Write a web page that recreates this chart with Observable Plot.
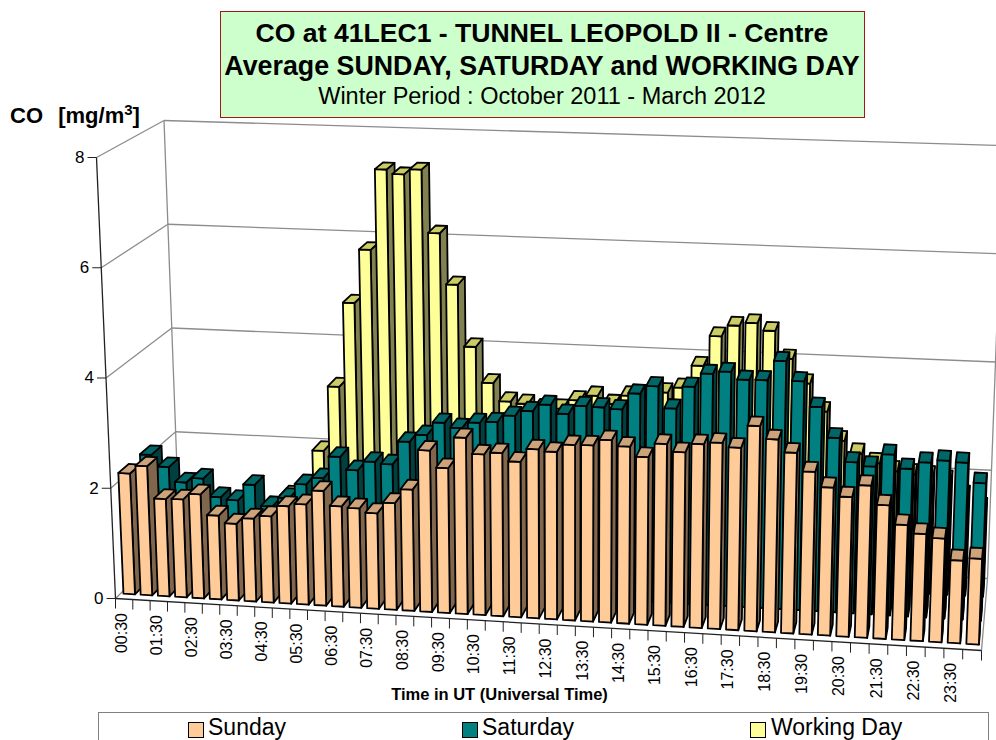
<!DOCTYPE html>
<html>
<head>
<meta charset="utf-8">
<script src="https://cdn.jsdelivr.net/npm/d3@7"></script>
<script src="https://cdn.jsdelivr.net/npm/@observablehq/plot@0.6"></script>
<style>
html,body{margin:0;padding:0;background:#fff;width:996px;height:740px;overflow:hidden;font-family:"Liberation Sans",Arial,sans-serif;color:#000}
#wrap{position:relative;width:996px;height:740px;overflow:hidden}
#titlebox{position:absolute;left:219.5px;top:10.5px;width:643px;height:105px;background:#ccffcc;border:1px solid #a01818;text-align:center;white-space:nowrap}
#titlebox div{position:absolute;left:0;right:0}
#t1{top:5px;font:bold 26.6px/32px "Liberation Sans"}
#t2{top:38px;font:bold 26.8px/32px "Liberation Sans"}
#t3{top:70px;font:23.5px/28px "Liberation Sans"}
#ylab{position:absolute;left:10px;top:103px;font:bold 22px/26px "Liberation Sans";white-space:pre;word-spacing:1.5px}
#ylab sup{font-size:15px;line-height:0;vertical-align:8px}
#chart{position:absolute;left:0;top:118px}
#legend{position:absolute;left:98px;top:712px;width:891px;height:40px;border:1px solid #808080;box-sizing:border-box;background:#fff}
.sw{position:absolute;top:8.5px;width:14px;height:14px;border:1px solid #000}
.lt{position:absolute;top:2px;font:23px/24px "Liberation Sans"}
</style>
</head>
<body>
<div id="wrap">
  <div id="titlebox">
    <div id="t1">CO at 41LEC1 - TUNNEL LEOPOLD II - Centre</div>
    <div id="t2">Average SUNDAY, SATURDAY and WORKING DAY</div>
    <div id="t3">Winter Period : October 2011 - March 2012</div>
  </div>
  <div id="chart"></div>
  <div id="ylab">CO  [mg/m<sup>3</sup>]</div>
  <div id="legend">
    <div class="sw" style="left:89px;background:#ffcc99"></div><div class="lt" style="left:109px">Sunday</div>
    <div class="sw" style="left:363px;background:#008080"></div><div class="lt" style="left:383px">Saturday</div>
    <div class="sw" style="left:651px;background:#ffff99"></div><div class="lt" style="left:672px">Working Day</div>
  </div>
</div>
<script>
// Half-hourly slots, 00:30 ... 24:00 (every second one is labelled)
const slotLabels = ["00:30","","01:30","","02:30","","03:30","","04:30","","05:30","","06:30","","07:30","","08:30","","09:30","","10:30","","11:30","","12:30","","13:30","","14:30","","15:30","","16:30","","17:30","","18:30","","19:30","","20:30","","21:30","","22:30","","23:30",""];
const sunday = [2.20,2.35,1.77,1.78,1.89,1.52,1.39,1.50,1.56,1.76,1.81,2.07,1.81,1.79,1.72,1.92,2.18,2.90,2.60,3.16,2.88,2.92,2.78,3.02,2.99,3.13,3.14,3.25,3.15,2.98,3.23,3.10,3.26,3.30,3.23,3.63,3.41,3.19,2.87,2.61,2.46,2.68,2.35,2.02,1.88,1.82,1.45,1.50];
const saturday = [2.20,1.99,1.72,1.81,1.48,1.44,1.74,1.36,1.53,1.80,1.93,2.34,2.11,2.28,2.25,2.68,2.82,3.06,2.98,3.09,3.12,3.25,3.35,3.48,3.33,3.49,3.48,3.46,3.76,3.91,3.52,3.93,4.18,4.23,4.10,4.11,4.47,4.12,3.67,3.13,2.71,2.65,2.88,2.64,2.77,2.82,2.80,2.45];
const workingDay = [1.20,1.10,1.00,0.90,0.80,0.80,0.90,1.18,1.35,2.06,3.28,4.87,5.88,7.40,7.32,7.42,6.24,5.29,4.14,3.48,3.15,3.12,3.05,3.06,3.23,3.33,3.19,3.36,3.40,3.45,3.55,3.97,4.53,4.74,4.80,4.67,4.17,3.73,3.23,2.71,2.49,2.33,2.20,2.16,2.14,2.07,1.81,1.60];
const yTicks = [0,2,4,6,8];
const yMax = 8;

// Series drawn back to front: [values, depth of the front face, front, side, top colours]
const series = [
  {values: workingDay, depth: 0.747, front: "#ffff99", side: "#808050", top: "#cccc66"},
  {values: saturday,   depth: 0.413, front: "#008080", side: "#004040", top: "#006666"},
  {values: sunday,     depth: 0.080, front: "#ffcc99", side: "#80664d", top: "#cca37a"}
];
const barDepth = 0.16, gap = 0.165;

// The chart's 3-D box as it appears in the picture (floor / top, front / back, left / right)
const box = {
  f0l:[115,598], f0r:[981,650], b0l:[179,535], b0r:[987,578],
  f8l:[96,157],  f8r:[998,191], b8l:[163.5,120], b8r:[1003,145]
};
const persp = 0.958;
function project(t, v, h) {
  const u = t * persp / (1 + t * (persp - 1)), w = h / yMax;
  const mix = (a, b, s) => [a[0] + (b[0] - a[0]) * s, a[1] + (b[1] - a[1]) * s];
  const floor = mix(mix(box.f0l, box.f0r, u), mix(box.b0l, box.b0r, u), v);
  const ceil = mix(mix(box.f8l, box.f8r, u), mix(box.b8l, box.b8r, u), v);
  return mix(floor, ceil, w);
}

const n = slotLabels.length;
const faces = [];
let id = 0;
function face(color, pts) {
  id++;
  [...pts, pts[0]].forEach(p => faces.push({x: p[0], y: p[1], face: id, color}));
}
for (const s of series) {
  s.values.forEach((val, i) => {
    const a = (i + gap) / n, b = (i + 1 - gap) / n;
    const v0 = s.depth, v1 = s.depth + barDepth;
    face(s.side, [project(b, v0, 0), project(b, v1, 0), project(b, v1, val), project(b, v0, val)]);
    face(s.front, [project(a, v0, 0), project(b, v0, 0), project(b, v0, val), project(a, v0, val)]);
    face(s.top, [project(a, v0, val), project(b, v0, val), project(b, v1, val), project(a, v1, val)]);
  });
}

const seg = (p, q) => ({x1: p[0], y1: p[1], x2: q[0], y2: q[1]});
const wall = [];
for (const h of yTicks) {
  wall.push(seg(project(0, 1, h), project(1, 1, h)));
  wall.push(seg(project(0, 0, h), project(0, 1, h)));
}
wall.push(seg(project(0, 1, 0), project(0, 1, yMax)));
wall.push(seg(project(1, 1, 0), project(1, 1, yMax)));
wall.push(seg(project(1, 0, 0), project(1, 1, 0)));
const axisLines = [seg(project(0, 0, 0), project(0, 0, yMax)), seg(project(0, 0, 0), project(1, 0, 0))];
const yTickRows = yTicks.map(h => { const p = project(0, 0, h); return {x: p[0], y: p[1], h}; });
const xTickRows = d3.range(n + 1).map(i => { const p = project(i / n, 0, 0); return {x: p[0], y: p[1]}; });
const xLabelRows = slotLabels.map((label, i) => { const p = project((i + 0.5) / n, 0, 0); return {x: p[0], y: p[1], label}; }).filter(d => d.label);

const chart = Plot.plot({
  width: 996, height: 594,
  margin: 0,
  x: {domain: [0, 996], range: [0, 996], axis: null},
  y: {domain: [118, 712], range: [0, 594], axis: null},
  color: {type: "identity"},
  style: {fontFamily: "'Liberation Sans'", background: "transparent"},
  marks: [
    Plot.link(wall, {x1: "x1", y1: "y1", x2: "x2", y2: "y2", stroke: "#8c8c8c", strokeWidth: 1.3}),
    Plot.link(axisLines, {x1: "x1", y1: "y1", x2: "x2", y2: "y2", stroke: "#222", strokeWidth: 1.3}),
    Plot.link(xTickRows, {x1: "x", x2: "x", y1: "y", y2: d => d.y + 10, stroke: "#222", strokeWidth: 1}),
    Plot.link(yTickRows, {x1: "x", x2: d => d.x - 9, y1: "y", y2: "y", stroke: "#222", strokeWidth: 1}),
    Plot.text(yTickRows, {x: d => d.x - 12, y: "y", text: d => String(d.h), textAnchor: "end", fontSize: 17, fill: "#000"}),
    Plot.text(xLabelRows, {x: d => d.x - 2, y: d => d.y + 14, text: "label", rotate: -90, textAnchor: "end", fontSize: 16, fill: "#000"}),
    Plot.text(["Time in UT (Universal Time)"], {x: () => 499, y: () => 694, text: d => d, fontSize: 16.5, fontWeight: "bold", fill: "#000"}),
    Plot.line(faces, {x: "x", y: "y", z: "face", fill: "color", stroke: "#000", strokeWidth: 1.8, strokeLinejoin: "round"})
  ]
});
document.getElementById("chart").appendChild(chart);
</script>
</body>
</html>
